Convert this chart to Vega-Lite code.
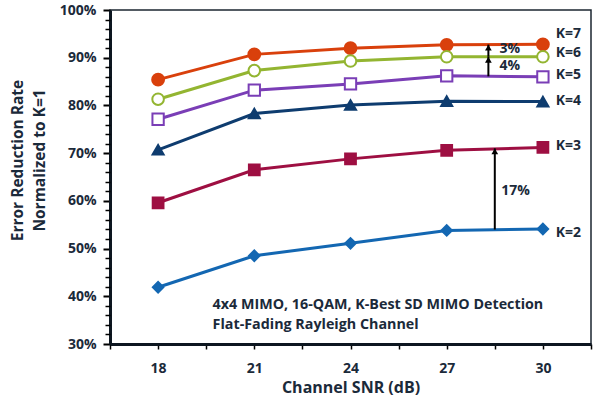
{
  "$schema": "https://vega.github.io/schema/vega-lite/v6.json",
  "width": 481,
  "height": 334,
  "autosize": "none",
  "padding": {"left": 110, "top": 10, "right": 9, "bottom": 57},
  "background": "white",
  "config": {
    "font": "Open Sans",
    "view": {"stroke": "#1b2631", "strokeWidth": 1.5}
  },
  "resolve": {"axis": {"y": "independent"}},
  "datasets": {
    "series": [
      {"k": "K=7", "snr": 18, "rate": 85.4}, {"k": "K=7", "snr": 21, "rate": 90.7}, {"k": "K=7", "snr": 24, "rate": 92.0}, {"k": "K=7", "snr": 27, "rate": 92.7}, {"k": "K=7", "snr": 30, "rate": 92.8},
      {"k": "K=6", "snr": 18, "rate": 81.3}, {"k": "K=6", "snr": 21, "rate": 87.3}, {"k": "K=6", "snr": 24, "rate": 89.3}, {"k": "K=6", "snr": 27, "rate": 90.2}, {"k": "K=6", "snr": 30, "rate": 90.2},
      {"k": "K=5", "snr": 18, "rate": 77.1}, {"k": "K=5", "snr": 21, "rate": 83.2}, {"k": "K=5", "snr": 24, "rate": 84.5}, {"k": "K=5", "snr": 27, "rate": 86.2}, {"k": "K=5", "snr": 30, "rate": 86.0},
      {"k": "K=4", "snr": 18, "rate": 70.7}, {"k": "K=4", "snr": 21, "rate": 78.3}, {"k": "K=4", "snr": 24, "rate": 80.1}, {"k": "K=4", "snr": 27, "rate": 80.9}, {"k": "K=4", "snr": 30, "rate": 80.8},
      {"k": "K=3", "snr": 18, "rate": 59.6}, {"k": "K=3", "snr": 21, "rate": 66.5}, {"k": "K=3", "snr": 24, "rate": 68.8}, {"k": "K=3", "snr": 27, "rate": 70.6}, {"k": "K=3", "snr": 30, "rate": 71.2},
      {"k": "K=2", "snr": 18, "rate": 41.9}, {"k": "K=2", "snr": 21, "rate": 48.5}, {"k": "K=2", "snr": 24, "rate": 51.1}, {"k": "K=2", "snr": 27, "rate": 53.8}, {"k": "K=2", "snr": 30, "rate": 54.1}
    ],
    "labels": [
      {"k": "K=7", "snr": 30.4, "rate": 94.9},
      {"k": "K=6", "snr": 30.4, "rate": 91.0},
      {"k": "K=5", "snr": 30.4, "rate": 86.3},
      {"k": "K=4", "snr": 30.4, "rate": 80.9},
      {"k": "K=3", "snr": 30.4, "rate": 71.5},
      {"k": "K=2", "snr": 30.4, "rate": 53.3}
    ],
    "arrows": [
      {"pct": "17%", "snr": 28.5, "from": 54.0, "to": 71.0, "tx": 28.7, "ty": 62.0},
      {"pct": "4%", "snr": 28.3, "from": 86.1, "to": 90.2, "tx": 28.65, "ty": 88.2},
      {"pct": "3%", "snr": 28.3, "from": 90.2, "to": 92.75, "tx": 28.65, "ty": 91.9}
    ],
    "notes": [
      {"text": "4x4 MIMO, 16-QAM, K-Best SD MIMO Detection", "snr": 19.7, "rate": 38.2},
      {"text": "Flat-Fading Rayleigh Channel", "snr": 19.7, "rate": 33.9}
    ]
  },
  "layer": [
    {
      "data": {"name": "series"},
      "mark": {"type": "line", "strokeWidth": 3},
      "encoding": {
        "x": {"field": "snr", "type": "quantitative", "scale": {"domain": [16.5, 31.5], "nice": false, "zero": false},
          "axis": {"title": "Channel SNR (dB)", "values": [16.5, 18, 19.5, 21, 22.5, 24, 25.5, 27, 28.5, 30, 31.5], "labelExpr": "datum.value % 3 == 0 ? datum.label : ''", "labelOverlap": false, "labelBound": false, "labelFont": "Open Sans", "titleFont": "Open Sans", "labelFontWeight": "bold", "titleFontWeight": "bold", "labelColor": "#1b2a3a", "titleColor": "#1b2a3a", "domainColor": "#0d1620", "ticks": true, "tickColor": "#000000", "grid": false, "labelFontSize": 14, "titleFontSize": 16, "tickSize": 5, "tickWidth": 1.5, "domainWidth": 3, "labelPadding": 12, "titlePadding": 4}},
        "y": {"field": "rate", "type": "quantitative", "scale": {"domain": [30, 100], "nice": false, "zero": false},
          "axis": {"title": ["Error Reduction Rate", "Normalized to K=1"], "values": [30, 40, 50, 60, 70, 80, 90, 100], "labelExpr": "datum.value + '%'", "labelOverlap": false, "labelBound": false, "labelFont": "Open Sans", "titleFont": "Open Sans", "labelFontWeight": "bold", "titleFontWeight": "bold", "labelColor": "#1b2a3a", "titleColor": "#1b2a3a", "domainColor": "#0d1620", "ticks": true, "tickColor": "#000000", "grid": false, "labelFontSize": 14, "titleFontSize": 15.5, "tickSize": 7, "tickWidth": 2, "domainWidth": 3, "labelPadding": 7, "titlePadding": 12, "titleLineHeight": 22, "titleY": 150}},
        "color": {"field": "k", "type": "nominal", "legend": null,
          "scale": {"domain": ["K=7", "K=6", "K=5", "K=4", "K=3", "K=2"], "range": ["#d9400c", "#93b531", "#7a3eb6", "#0e3c6f", "#9e0f42", "#1367b2"]}},
        "strokeWidth": {"field": "k", "type": "nominal", "legend": null,
          "scale": {"domain": ["K=7", "K=6", "K=5", "K=4", "K=3", "K=2"], "range": [3, 2, 3, 3, 3, 3]}},
        "detail": {"field": "k"}
      }
    },
    {
      "data": {"name": "series"},
      "mark": {"type": "point", "filled": false, "opacity": 1, "strokeWidth": 2},
      "encoding": {
        "x": {"field": "snr", "type": "quantitative"},
        "y": {"field": "rate", "type": "quantitative",
          "axis": {"orient": "left", "title": null, "labels": false, "domain": false, "grid": false, "ticks": true, "values": [32,34,36,38,42,44,46,48,52,54,56,58,62,64,66,68,72,74,76,78,82,84,86,88,92,94,96,98], "tickSize": 5, "tickWidth": 1.5, "tickColor": "#000000"}},
        "stroke": {"field": "k", "type": "nominal", "legend": null,
          "scale": {"domain": ["K=7", "K=6", "K=5", "K=4", "K=3", "K=2"], "range": ["#d9400c", "#93b531", "#7a3eb6", "#0e3c6f", "#9e0f42", "#1367b2"]}},
        "fill": {"field": "k", "type": "nominal", "legend": null,
          "scale": {"domain": ["K=7", "K=6", "K=5", "K=4", "K=3", "K=2"], "range": ["#d9400c", "#ffffff", "#ffffff", "#0e3c6f", "#9e0f42", "#1367b2"]}},
        "shape": {"field": "k", "type": "nominal", "legend": null,
          "scale": {"domain": ["K=7", "K=6", "K=5", "K=4", "K=3", "K=2"], "range": ["circle", "circle", "square", "triangle-up", "square", "diamond"]}},
        "size": {"field": "k", "type": "nominal", "legend": null,
          "scale": {"domain": ["K=7", "K=6", "K=5", "K=4", "K=3", "K=2"], "range": [140, 110, 110, 120, 100, 110]}}
      }
    },
    {
      "data": {"name": "labels"},
      "mark": {"type": "text", "align": "left", "baseline": "middle", "fontSize": 14, "fontWeight": "bold", "color": "#1b2a3a"},
      "encoding": {
        "x": {"field": "snr", "type": "quantitative"},
        "y": {"field": "rate", "type": "quantitative", "axis": null},
        "text": {"field": "k"}
      }
    },
    {
      "data": {"name": "arrows"},
      "mark": {"type": "rule", "color": "black", "strokeWidth": 2},
      "encoding": {
        "x": {"field": "snr", "type": "quantitative"},
        "y": {"field": "from", "type": "quantitative", "axis": null},
        "y2": {"field": "to"}
      }
    },
    {
      "data": {"name": "arrows"},
      "mark": {"type": "point", "shape": "triangle-up", "filled": true, "color": "black", "size": 45, "opacity": 1, "yOffset": 3},
      "encoding": {
        "x": {"field": "snr", "type": "quantitative"},
        "y": {"field": "to", "type": "quantitative", "axis": null}
      }
    },
    {
      "data": {"name": "arrows"},
      "mark": {"type": "text", "align": "left", "baseline": "middle", "fontSize": 14, "fontWeight": "bold", "color": "#1b2a3a"},
      "encoding": {
        "x": {"field": "tx", "type": "quantitative"},
        "y": {"field": "ty", "type": "quantitative", "axis": null},
        "text": {"field": "pct"}
      }
    },
    {
      "data": {"name": "notes"},
      "mark": {"type": "text", "align": "left", "baseline": "middle", "fontSize": 14.3, "fontWeight": "bold", "color": "#1b2a3a"},
      "encoding": {
        "x": {"field": "snr", "type": "quantitative"},
        "y": {"field": "rate", "type": "quantitative", "axis": null},
        "text": {"field": "text"}
      }
    }
  ]
}
